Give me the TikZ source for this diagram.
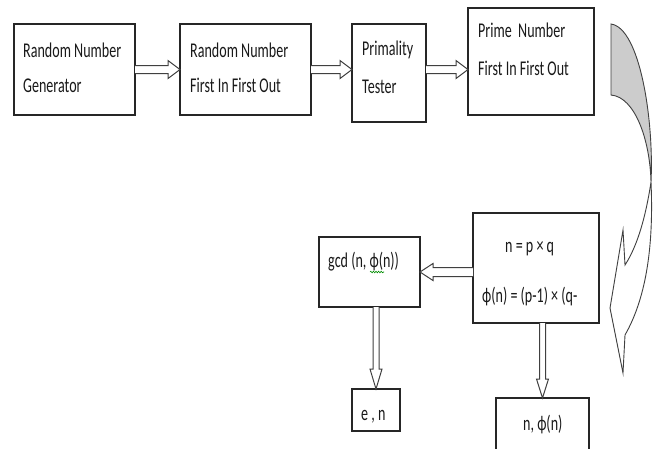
\documentclass[tikz,border=0pt]{standalone}
\usepackage{fontspec}
\setmainfont{Carlito}[FakeStretch=0.67]
\usetikzlibrary{calc,decorations.pathmorphing}

% outlined block arrow from #1 to #2: shaft half-width #3, head half-width #4, head length #5
\newcommand\hollowarrow[5]{%
  \coordinate (hb) at ($(#2)!#5!(#1)$);
  \draw[hollow] ($(#1)!#3!90:(#2)$) -- ($(hb)!#3!-90:(#1)$) -- ($(hb)!#4!-90:(#1)$)
    -- (#2) -- ($(hb)!#4!90:(#1)$) -- ($(hb)!#3!90:(#1)$) -- ($(#1)!#3!-90:(#2)$);}

\begin{document}
\begin{tikzpicture}[x=1pt,y=-1pt,
  box/.style={draw=black!85, line width=1.2pt, inner sep=0pt, outer sep=0pt, anchor=north west},
  txt/.style={anchor=base west, inner sep=0pt, text=black!90, font=\fontsize{21}{25}\selectfont},
  hollow/.style={draw=black!75, line width=1pt, fill=white, line join=miter}]
\useasboundingbox (0,0) rectangle (661,448);

% boxes
\node[box, minimum width=121pt, minimum height=91pt] (b1) at (14,24) {};
\node[box, minimum width=131pt, minimum height=91pt] (b2) at (180,24) {};
\node[box, minimum width=74pt, minimum height=98pt] (b3) at (352,24) {};
\node[box, minimum width=126pt, minimum height=107pt] (b4) at (468,8) {};
\node[box, minimum width=126pt, minimum height=110pt] (b5) at (473,213) {};
\node[box, minimum width=101pt, minimum height=70pt] (b6) at (319,237) {};
\node[box, minimum width=48pt, minimum height=42pt] (b7) at (352,389) {};
\node[box, minimum width=93pt, minimum height=62pt] (b8) at (496,398) {};

% texts
\node[txt] (t1a) at (23,57) {Random Number};
\node[txt] (t1b) at (23,92) {Generator};
\node[txt] (t2a) at (190,57) {Random Number};
\node[txt] (t2b) at (190,92) {First In First Out};
\node[txt] (t3a) at (362,55) {Primality};
\node[txt] (t3b) at (362,93) {Tester};
\node[txt] (t4a) at (478,37) {Prime\ \ Number};
\node[txt] (t4b) at (478,75) {First In First Out};
\node[txt] (t5a) at (505,252) {n = p × q};
\node[txt] (t5b) at (482,302) {ϕ(n) = (p-1) × (q-};
\node[txt] (t6) at (328,267) {gcd (n, ϕ(n))};
\node[txt] (t7) at (361,420) {e , n};
\node[txt] (t8) at (523,430) {n, ϕ(n)};

% spelling squiggle under the phi
\draw[decorate, decoration={snake, amplitude=0.8pt, segment length=2.6pt},
  green!55!black, line width=0.6pt] ($(t6.base west)+(42,5)$) -- ($(t6.base west)+(56,5)$);

% connectors
\coordinate (a2e) at (b2.east -| b3.west);
\coordinate (a3s) at (b3.east |- b2.east);
\coordinate (a3e) at (b4.west |- b2.east);
\coordinate (a4s) at (b5.west |- b6.east);
\coordinate (a5s) at (b6.south -| b7.north);
\coordinate (a6s) at (b5.south -| b8.north);
\hollowarrow{b1.east}{b2.west}{4pt}{9pt}{12pt}
\hollowarrow{b2.east}{a2e}{4pt}{9pt}{12pt}
\hollowarrow{a3s}{a3e}{4pt}{9pt}{12pt}
\hollowarrow{a4s}{b6.east}{4.5pt}{8.5pt}{13pt}
\hollowarrow{a5s}{b7.north}{3pt}{6pt}{20pt}
\hollowarrow{a6s}{b8.north}{3pt}{6pt}{19pt}

% curved turn-around arrow on the right
\draw[draw=black!75, line width=0.9pt, fill=gray!40]
  (611,24) -- (611,95) .. controls (635,97) and (650,140) .. (651,182)
  .. controls (654,120) and (640,28) .. (611,24) -- cycle;
\draw[draw=black!75, line width=0.9pt, fill=white]
  (651,182) .. controls (646,215) and (638,245) .. (625,265)
  -- (623,230) -- (610,308) -- (623,373) -- (625,335)
  .. controls (645,300) and (654,250) .. (651,182) -- cycle;
\end{tikzpicture}
\end{document}
